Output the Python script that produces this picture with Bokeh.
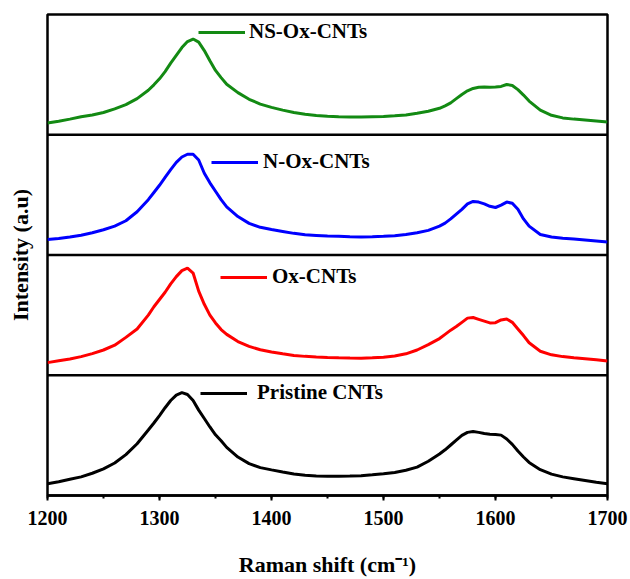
import numpy as np
from bokeh.plotting import figure
from bokeh.models import Range1d, Span, Legend, LegendItem, FixedTicker
from bokeh.embed import file_html
from bokeh.resources import INLINE

# Raman shift grid (cm^-1)
raman_shift = [1200, 1210, 1220, 1230, 1240, 1250, 1260, 1270, 1280, 1290,
               1295, 1300, 1305, 1310, 1315, 1320, 1325, 1330, 1335, 1340, 1345, 1350, 1355, 1360,
               1370, 1380, 1390, 1400, 1410, 1420, 1430, 1440, 1450, 1460, 1470, 1480, 1490, 1500,
               1510, 1520, 1530, 1540,
               1550, 1555, 1560, 1565, 1570, 1575, 1580, 1585, 1590, 1595, 1600, 1605, 1610, 1615,
               1620, 1625, 1630,
               1640, 1650, 1660, 1670, 1680, 1690, 1700]

# Normalised intensities (a.u.) per sample
pristine = [0.098, 0.115, 0.135, 0.155, 0.185, 0.222, 0.270, 0.340, 0.430, 0.545,
            0.603, 0.665, 0.730, 0.790, 0.835, 0.855, 0.840, 0.790, 0.710, 0.640, 0.570, 0.505, 0.455, 0.400,
            0.320, 0.265, 0.232, 0.213, 0.195, 0.178, 0.168, 0.163, 0.160, 0.160, 0.162, 0.165, 0.172, 0.180,
            0.192, 0.210, 0.236, 0.285,
            0.345, 0.380, 0.420, 0.460, 0.500, 0.525, 0.532, 0.525, 0.515, 0.510, 0.508, 0.502, 0.470, 0.425,
            0.370, 0.320, 0.275,
            0.215, 0.178, 0.155, 0.140, 0.125, 0.110, 0.098]

ox_cnts = [0.105, 0.120, 0.135, 0.155, 0.180, 0.210, 0.250, 0.315, 0.385, 0.500,
           0.570, 0.630, 0.690, 0.760, 0.820, 0.870, 0.890, 0.850, 0.700, 0.590, 0.500, 0.435, 0.380, 0.340,
           0.280, 0.240, 0.212, 0.193, 0.178, 0.165, 0.157, 0.152, 0.148, 0.145, 0.143, 0.142, 0.145, 0.150,
           0.160, 0.178, 0.210, 0.255,
           0.305, 0.340, 0.375, 0.405, 0.440, 0.475, 0.480, 0.465, 0.450, 0.435, 0.437, 0.460, 0.468, 0.440,
           0.385, 0.330, 0.270,
           0.200, 0.170, 0.155, 0.145, 0.138, 0.128, 0.118]

n_ox_cnts = [0.129, 0.138, 0.150, 0.165, 0.185, 0.210, 0.240, 0.285, 0.360, 0.460,
             0.520, 0.580, 0.645, 0.710, 0.770, 0.815, 0.838, 0.838, 0.790, 0.680, 0.600, 0.530, 0.460, 0.400,
             0.320, 0.263, 0.230, 0.212, 0.196, 0.180, 0.168, 0.163, 0.158, 0.155, 0.152, 0.150, 0.152, 0.155,
             0.160, 0.170, 0.185, 0.205,
             0.240, 0.265, 0.300, 0.340, 0.380, 0.425, 0.445, 0.440, 0.425, 0.405, 0.395, 0.415, 0.440, 0.430,
             0.380, 0.300, 0.240,
             0.170, 0.150, 0.140, 0.133, 0.125, 0.117, 0.109]

ns_ox_cnts = [0.097, 0.113, 0.130, 0.150, 0.165, 0.185, 0.215, 0.250, 0.300, 0.370,
              0.415, 0.465, 0.525, 0.595, 0.660, 0.725, 0.775, 0.796, 0.770, 0.700, 0.615, 0.535, 0.475, 0.420,
              0.350, 0.295, 0.255, 0.228, 0.205, 0.185, 0.170, 0.160, 0.153, 0.150, 0.148, 0.148, 0.150, 0.152,
              0.158, 0.165, 0.178, 0.195,
              0.220, 0.240, 0.265, 0.300, 0.335, 0.365, 0.385, 0.395, 0.397, 0.395, 0.397, 0.402, 0.418, 0.410,
              0.375, 0.330, 0.280,
              0.205, 0.162, 0.140, 0.130, 0.123, 0.115, 0.106]

series_names = ["Pristine CNTs", "Ox-CNTs", "N-Ox-CNTs", "NS-Ox-CNTs"]
series_values = [pristine, ox_cnts, n_ox_cnts, ns_ox_cnts]
series_colors = ["#000000", "#ff0000", "#0000ff", "#138a13"]
x_ticks = [1200, 1300, 1400, 1500, 1600, 1700]

FONT = "Liberation Serif"

p = figure(width=630, height=579,
           x_range=Range1d(1200, 1700), y_range=Range1d(0, 4),
           output_backend="svg", toolbar_location=None,
           min_border_left=47, min_border_right=23,
           min_border_top=14, min_border_bottom=84)
p.grid.visible = False
p.background_fill_color = "white"
p.border_fill_color = "white"
p.outline_line_color = "black"
p.outline_line_width = 2.5
p.outline_line_alpha = 1.0

# x axis
xa = p.xaxis[0]
xa.ticker = FixedTicker(ticks=x_ticks, minor_ticks=list(range(1200, 1701, 50)))
xa.axis_line_color = "black"
xa.axis_line_width = 2.5
xa.major_tick_line_color = "black"
xa.major_tick_line_width = 2
xa.major_tick_in = 0
xa.major_tick_out = 5
xa.minor_tick_line_color = "black"
xa.minor_tick_line_width = 2
xa.minor_tick_in = 0
xa.minor_tick_out = 3
xa.major_label_text_font = FONT
xa.major_label_text_font_style = "bold"
xa.major_label_text_font_size = "20px"
xa.major_label_text_color = "black"
xa.major_label_standoff = 10
xa.axis_label = "Raman shift (cm\u207b\u00b9)"
xa.axis_label_text_font = FONT
xa.axis_label_text_font_style = "bold"
xa.axis_label_text_font_size = "22px"
xa.axis_label_text_color = "black"
xa.axis_label_standoff = 24

# y axis: title only, no ticks
ya = p.yaxis[0]
ya.ticker = FixedTicker(ticks=[])
ya.axis_line_color = None
ya.major_tick_line_color = None
ya.minor_tick_line_color = None
ya.axis_label = "Intensity (a.u)"
ya.axis_label_text_font = FONT
ya.axis_label_text_font_style = "bold"
ya.axis_label_text_font_size = "22px"
ya.axis_label_text_color = "black"
ya.axis_label_standoff = 15

# panel dividers
for k in (1, 2, 3):
    p.add_layout(Span(location=k, dimension="width", line_color="black", line_width=2.5))

x = np.array(raman_shift, dtype=float)
legend_locs = [(153, 90), (173, 206), (164, 321), (151, 451)]
legend_standoffs = [10, 5, 5, 4]
for i, (name, vals, col) in enumerate(zip(series_names, series_values, series_colors)):
    r = p.line(x, np.array(vals) + i, line_color=col, line_width=3)
    lg = Legend(items=[LegendItem(label=name, renderers=[r])],
                location=legend_locs[i],
                padding=0, margin=0, spacing=0,
                glyph_width=47, glyph_height=24, label_height=24,
                label_standoff=legend_standoffs[i],
                label_text_font=FONT, label_text_font_style="bold",
                label_text_font_size="21px", label_text_color="black",
                border_line_color=None, background_fill_alpha=0.0)
    p.add_layout(lg, "center")

open("out.html", "w").write(file_html(p, INLINE))
